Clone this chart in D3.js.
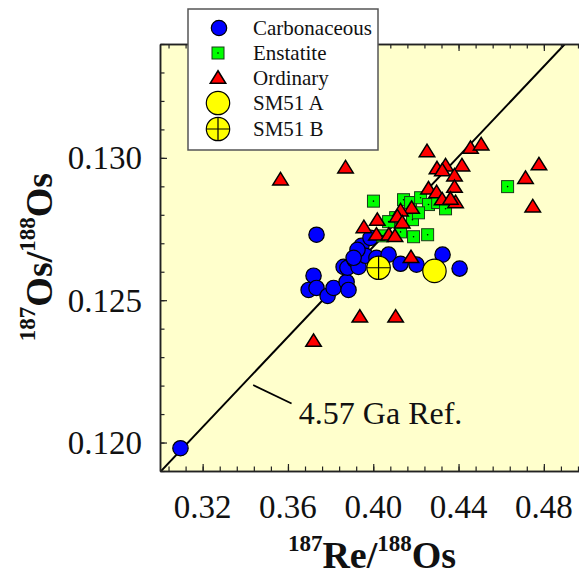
<!DOCTYPE html>
<html lang="en">
<head>
<meta charset="UTF-8">
<title>Re-Os isochron</title>
<script src="https://d3js.org/d3.v7.min.js"></script>
<style>
    body { margin: 0; background: #fff; }
    text { font-family: "Liberation Serif", "Times New Roman", serif; fill: #111; }
</style>
</head>
<body>
<div id="chart"></div>
<script>
    // 187Re/188Os and 187Os/188Os
    var carbRe = [0.3096, 0.3734, 0.3720, 0.3697, 0.3734, 0.3786, 0.3814, 0.3875, 0.3884, 0.3861, 0.3879, 0.3912,
                  0.3931, 0.3945, 0.3964, 0.3987, 0.4015, 0.4072, 0.4128, 0.4203, 0.4325, 0.4405, 0.3926, 0.3908];
    var carbOs = [0.1198, 0.1273, 0.12586, 0.12536, 0.12543, 0.12515, 0.12543, 0.12564, 0.12536, 0.12617, 0.12614, 0.12642,
                  0.12617, 0.12691, 0.12656, 0.12719, 0.12649, 0.1266, 0.12628, 0.12625, 0.1266, 0.12611, 0.12677, 0.12649];

    var enstRe = [0.4001, 0.4142, 0.4175, 0.4222, 0.4259, 0.4302, 0.4339, 0.4105, 0.4184, 0.4189, 0.4255, 0.4630,
                  0.4072, 0.4044, 0.4128, 0.4212];
    var enstOs = [0.12848, 0.12853, 0.12843, 0.12860, 0.12836, 0.12843, 0.12821, 0.1279, 0.12783, 0.12723, 0.1273, 0.12899,
                  0.12776, 0.12726, 0.1274, 0.12807];

    var ordRe = [0.3565, 0.3870, 0.4252, 0.4456, 0.4506, 0.4299, 0.4339, 0.4324, 0.4416, 0.4381, 0.4777, 0.4714,
                 0.4748, 0.4259, 0.4297, 0.4381, 0.4323, 0.4386, 0.4362, 0.4180, 0.4128, 0.4113, 0.4136, 0.4019,
                 0.3956, 0.4015, 0.4073, 0.4102, 0.4177, 0.3937, 0.4105, 0.3720];
    var ordOs = [0.12927, 0.12969, 0.13026, 0.13038, 0.13050, 0.12966, 0.12976, 0.12959, 0.12976, 0.12941, 0.1298, 0.12932,
                 0.12832, 0.12895, 0.12882, 0.12901, 0.12857, 0.12847, 0.12859, 0.12827, 0.12818, 0.12797, 0.12776, 0.12785,
                 0.12759, 0.12733, 0.12733, 0.12728, 0.12654, 0.12445, 0.12445, 0.1236];

    var sm51A = [0.4287, 0.12603];
    var sm51B = [0.4025, 0.12614];

    // 4.57 Ga reference isochron: Os = init + slope * Re
    var isoSlope = 0.0792, isoInit = 0.0952;
    var refLabel = "4.57 Ga Ref.";
    var refLeader = [[0.3437, 0.12202], [0.3617, 0.12137]];
    var refText = [0.3651, 0.12064];

    var legendLabels = ["Carbonaceous", "Enstatite", "Ordinary", "SM51 A", "SM51 B"];

    var xMajor = [0.32, 0.36, 0.40, 0.44, 0.48];
    var yMajor = [0.120, 0.125, 0.130];

    var margin = {top: 44, left: 160},
        width = 426.5,
        height = 427;

    var svg = d3.select("#chart")
        .append("svg")
        .attr("width", 579)
        .attr("height", 577);

    var g = svg.append("g")
        .attr("transform", "translate(" + margin.left + "," + margin.top + ")");

    var x = d3.scaleLinear().domain([0.30, 0.50]).range([0, width]);
    var y = d3.scaleLinear().domain([0.119, 0.134]).range([height, 0]);

    g.append("rect")
        .attr("width", width)
        .attr("height", height)
        .attr("fill", "#ffffcc");

    g.append("clipPath").attr("id", "plotclip")
        .append("rect").attr("width", width).attr("height", height);

    // reference line
    g.append("line")
        .attr("clip-path", "url(#plotclip)")
        .attr("x1", x(0.29)).attr("y1", y(isoInit + isoSlope * 0.29))
        .attr("x2", x(0.50)).attr("y2", y(isoInit + isoSlope * 0.50))
        .attr("stroke", "#000")
        .attr("stroke-width", 2);

    g.append("line")
        .attr("x1", x(refLeader[0][0])).attr("y1", y(refLeader[0][1]))
        .attr("x2", x(refLeader[1][0])).attr("y2", y(refLeader[1][1]))
        .attr("stroke", "#000")
        .attr("stroke-width", 1.8);

    g.append("text")
        .attr("x", x(refText[0]))
        .attr("y", y(refText[1]))
        .style("font-size", "32px")
        .text(refLabel);

    // markers
    var tri = "M0,-6.25L7.75,6.25L-7.75,6.25Z";

    g.selectAll(".carb")
        .data(carbRe)
        .enter()
        .append("circle")
        .attr("cx", function(d) { return x(d); })
        .attr("cy", function(d, i) { return y(carbOs[i]); })
        .attr("r", 7.7)
        .attr("fill", "#0000ff")
        .attr("stroke", "#000")
        .attr("stroke-width", 1.2);

    var sq = g.selectAll(".enst")
        .data(enstRe)
        .enter()
        .append("g")
        .attr("transform", function(d, i) { return "translate(" + x(d) + "," + y(enstOs[i]) + ")"; });
    sq.append("rect")
        .attr("x", -6).attr("y", -6).attr("width", 12).attr("height", 12)
        .attr("fill", "#00ff00")
        .attr("stroke", "#1a3a1a")
        .attr("stroke-width", 1);
    sq.append("circle").attr("r", 0.8).attr("fill", "#000");

    g.selectAll(".ord")
        .data(ordRe)
        .enter()
        .append("path")
        .attr("d", tri)
        .attr("transform", function(d, i) { return "translate(" + x(d) + "," + y(ordOs[i]) + ")"; })
        .attr("fill", "#ff0000")
        .attr("stroke", "#000")
        .attr("stroke-width", 1.5)
        .attr("stroke-linejoin", "miter");

    function bigDot(parent, cx, cy, cross) {
        var s = parent.append("g").attr("transform", "translate(" + cx + "," + cy + ")");
        s.append("circle").attr("r", 11.7)
            .attr("fill", "#ffff00").attr("stroke", "#000").attr("stroke-width", 1.2);
        if (cross) {
            s.append("path").attr("d", "M-11.7,0H11.7M0,-11.7V11.7")
                .attr("stroke", "#000").attr("stroke-width", 1.2);
        }
    }
    bigDot(g, x(sm51A[0]), y(sm51A[1]), false);
    bigDot(g, x(sm51B[0]), y(sm51B[1]), true);

    // axes, ticks point inward
    function styleAxis(a) {
        a.select(".domain").attr("stroke", "#222").attr("stroke-width", 1.5);
        a.selectAll(".tick line").attr("stroke", "#222").attr("stroke-width", 1.2);
    }

    var xMinor = d3.range(0.304, 0.5, 0.008);
    var yMinor = d3.range(0.119, 0.1345, 0.001);

    [[d3.axisBottom, "translate(0," + height + ")", x, xMinor, xMajor],
     [d3.axisTop, null, x, xMinor, xMajor],
     [d3.axisLeft, null, y, yMinor, yMajor],
     [d3.axisRight, "translate(" + width + ",0)", y, yMinor, yMajor]].forEach(function(a) {
        var minor = g.append("g").attr("transform", a[1])
            .call(a[0](a[2]).tickValues(a[3]).tickSize(-4.5).tickSizeOuter(0).tickFormat(""));
        styleAxis(minor);
        var major = g.append("g").attr("transform", a[1])
            .call(a[0](a[2]).tickValues(a[4]).tickSize(-7).tickSizeOuter(0).tickFormat(""));
        styleAxis(major);
    });

    g.selectAll(".xlab")
        .data(xMajor)
        .enter()
        .append("text")
        .attr("x", function(d) { return x(d); })
        .attr("y", height + 47)
        .attr("text-anchor", "middle")
        .style("font-size", "33px")
        .text(function(d) { return d3.format(".2f")(d); });

    g.selectAll(".ylab")
        .data(yMajor)
        .enter()
        .append("text")
        .attr("x", -18)
        .attr("y", function(d) { return y(d); })
        .attr("dy", "0.35em")
        .attr("text-anchor", "end")
        .style("font-size", "33px")
        .text(function(d) { return d3.format(".3f")(d); });

    // axis titles
    function isoTitle(t, a, b) {
        t.append("tspan").attr("dy", -17).style("font-size", "23px").text("187");
        t.append("tspan").attr("dy", 17).text(a + "/");
        t.append("tspan").attr("dy", -17).style("font-size", "23px").text("188");
        t.append("tspan").attr("dy", 17).text(b);
    }

    var xt = svg.append("text")
        .attr("x", 372)
        .attr("y", 568)
        .attr("text-anchor", "middle")
        .style("font-size", "38px")
        .style("font-weight", "bold");
    isoTitle(xt, "Re", "Os");

    var yt = svg.append("text")
        .attr("transform", "translate(52,257) rotate(-90)")
        .attr("text-anchor", "middle")
        .style("font-size", "38px")
        .style("font-weight", "bold");
    isoTitle(yt, "Os", "Os");

    // legend
    var rows = [28, 53, 78, 103, 129];
    var lg = svg.append("g");
    lg.append("rect")
        .attr("x", 188).attr("y", 9).attr("width", 190).attr("height", 141)
        .attr("fill", "#fff")
        .attr("stroke", "#555")
        .attr("stroke-width", 1.5);

    lg.append("circle").attr("cx", 219).attr("cy", rows[0]).attr("r", 7.7)
        .attr("fill", "#0000ff").attr("stroke", "#000").attr("stroke-width", 1.2);
    lg.append("rect").attr("x", 212).attr("y", rows[1] - 6).attr("width", 12).attr("height", 12)
        .attr("fill", "#00ff00").attr("stroke", "#1a3a1a");
    lg.append("circle").attr("cx", 218).attr("cy", rows[1]).attr("r", 0.8).attr("fill", "#000");
    lg.append("path").attr("d", tri).attr("transform", "translate(218," + (rows[2] - 1) + ")")
        .attr("fill", "#ff0000").attr("stroke", "#000").attr("stroke-width", 1.5);
    bigDot(lg, 218, rows[3], false);
    bigDot(lg, 218, rows[4], true);

    lg.selectAll(".ltxt")
        .data(legendLabels)
        .enter()
        .append("text")
        .attr("x", 253)
        .attr("y", function(d, i) { return rows[i] + 7; })
        .style("font-size", "21px")
        .text(function(d) { return d; });
</script>
</body>
</html>
